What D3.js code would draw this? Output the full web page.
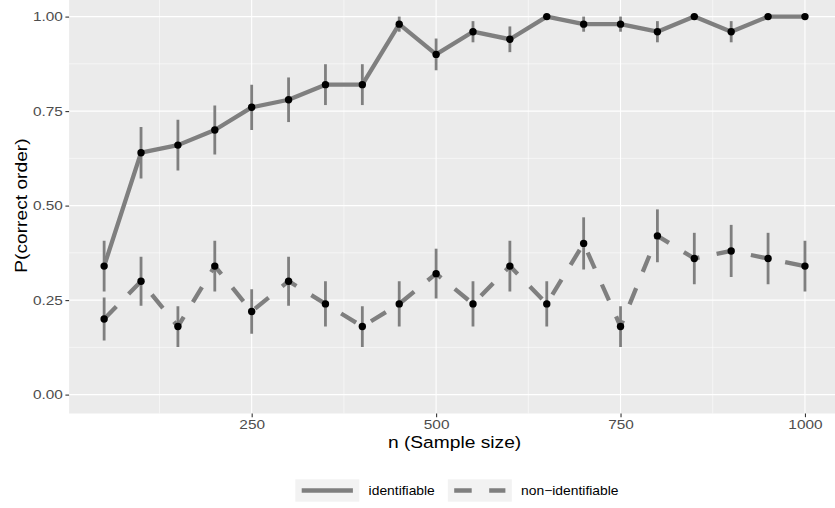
<!DOCTYPE html>
<html>
<head>
<meta charset="utf-8">
<script src="https://cdn.jsdelivr.net/npm/d3@7"></script>
<style>
  html, body { margin: 0; padding: 0; background: #ffffff; }
  svg { display: block; font-family: "Liberation Sans", Arial, Helvetica, sans-serif; }
</style>
</head>
<body>
<svg id="chart" width="835" height="508"></svg>
<script>
// Sample sizes on the x axis
const sampleSizes = [50, 100, 150, 200, 250, 300, 350, 400, 450, 500,
                     550, 600, 650, 700, 750, 800, 850, 900, 950, 1000];

// Proportion of runs recovering the correct order, with error bar bounds
const identMean  = [0.34, 0.64, 0.66, 0.70, 0.76, 0.78, 0.82, 0.82, 0.98, 0.90,
                    0.96, 0.94, 1.00, 0.98, 0.98, 0.96, 1.00, 0.96, 1.00, 1.00];
const identLower = [0.273, 0.572, 0.593, 0.635, 0.700, 0.721, 0.766, 0.766, 0.960, 0.858,
                    0.932, 0.906, 1.000, 0.960, 0.960, 0.932, 1.000, 0.932, 1.000, 1.000];
const identUpper = [0.407, 0.708, 0.727, 0.765, 0.820, 0.839, 0.874, 0.874, 1.000, 0.942,
                    0.988, 0.974, 1.000, 1.000, 1.000, 0.988, 1.000, 0.988, 1.000, 1.000];

const nonMean  = [0.20, 0.30, 0.18, 0.34, 0.22, 0.30, 0.24, 0.18, 0.24, 0.32,
                  0.24, 0.34, 0.24, 0.40, 0.18, 0.42, 0.36, 0.38, 0.36, 0.34];
const nonLower = [0.143, 0.235, 0.126, 0.273, 0.161, 0.235, 0.180, 0.126, 0.180, 0.254,
                  0.180, 0.273, 0.180, 0.331, 0.126, 0.350, 0.292, 0.311, 0.292, 0.273];
const nonUpper = [0.257, 0.365, 0.234, 0.407, 0.279, 0.365, 0.300, 0.234, 0.300, 0.386,
                  0.300, 0.407, 0.300, 0.469, 0.234, 0.490, 0.428, 0.449, 0.428, 0.407];

const seriesNames = ["identifiable", "non\u2212identifiable"];
const xTicks = [250, 500, 750, 1000];
const yTicks = [0, 0.25, 0.5, 0.75, 1];
const yTickLabels = ["0.00", "0.25", "0.50", "0.75", "1.00"];
const xMinor = [125, 375, 625, 875];
const yMinor = [0.125, 0.375, 0.625, 0.875];

const series = [
  { name: seriesNames[0], mean: identMean, lo: identLower, hi: identUpper, dash: null },
  { name: seriesNames[1], mean: nonMean,   lo: nonLower,   hi: nonUpper,   dash: "17.5 17.5" }
];

const svg = d3.select("#chart");
const lineColor = "#7f7f7f";
const textWiden = 1.22;   // glyphs are set a little wider than the base face

// Scales (domain padded 5% on each side, ggplot style)
const x = d3.scaleLinear().domain([2.5, 1047.5]).range([69.1, 840.0]);
const y = d3.scaleLinear().domain([-0.05, 1.05]).range([413.5, -2.3]);

const [px0, px1] = x.range();
const [py0, py1] = y.range();

// Panel background
svg.append("rect")
  .attr("x", px0).attr("y", py1)
  .attr("width", px1 - px0).attr("height", py0 - py1)
  .attr("fill", "#ebebeb");

// Grid lines
const grid = svg.append("g");
grid.selectAll(".xminor").data(xMinor).enter().append("line")
  .attr("x1", d => x(d)).attr("x2", d => x(d))
  .attr("y1", py0).attr("y2", py1)
  .attr("stroke", "#ffffff").attr("stroke-width", 0.55);
grid.selectAll(".yminor").data(yMinor).enter().append("line")
  .attr("y1", d => y(d)).attr("y2", d => y(d))
  .attr("x1", px0).attr("x2", px1)
  .attr("stroke", "#ffffff").attr("stroke-width", 0.55);
grid.selectAll(".xmajor").data(xTicks).enter().append("line")
  .attr("x1", d => x(d)).attr("x2", d => x(d))
  .attr("y1", py0).attr("y2", py1)
  .attr("stroke", "#ffffff").attr("stroke-width", 1.1);
grid.selectAll(".ymajor").data(yTicks).enter().append("line")
  .attr("y1", d => y(d)).attr("y2", d => y(d))
  .attr("x1", px0).attr("x2", px1)
  .attr("stroke", "#ffffff").attr("stroke-width", 1.1);

// Axes
const xAxis = d3.axisBottom(x).tickValues(xTicks).tickSize(3.7).tickPadding(3).tickFormat(d3.format("d"));
const yAxis = d3.axisLeft(y).tickValues(yTicks).tickSize(3.7).tickPadding(2.5)
  .tickFormat((d, i) => yTickLabels[i]);

const gx = svg.append("g").attr("transform", `translate(0,${py0})`).call(xAxis);
const gy = svg.append("g").attr("transform", `translate(${px0},0)`).call(yAxis);
[gx, gy].forEach(g => {
  g.select(".domain").remove();
  g.selectAll(".tick line").attr("stroke", "#333333").attr("stroke-width", 1.1);
  g.selectAll(".tick text")
    .attr("fill", "#4d4d4d")
    .style("font-size", "12.6px")
    .style("font-family", "'Liberation Sans', Arial, sans-serif")
    .each(function () {
      const t = d3.select(this);
      const tx = +t.attr("x") || 0;
      t.attr("x", 0).attr("transform", `translate(${tx},0) scale(${textWiden},1)`);
    });
});

// Axis titles
svg.append("text")
  .attr("transform", `translate(${(px0 + px1) / 2},448) scale(${textWiden},1)`)
  .attr("text-anchor", "middle")
  .style("font-size", "15.75px").attr("fill", "#000000")
  .text("n (Sample size)");

svg.append("text")
  .attr("transform", `translate(26.7,${(py0 + py1) / 2}) rotate(-90) scale(${textWiden},1)`)
  .attr("text-anchor", "middle")
  .style("font-size", "15.75px").attr("fill", "#000000")
  .text("P(correct order)");

// Clip marks to the panel
svg.append("clipPath").attr("id", "panel-clip")
  .append("rect").attr("x", px0).attr("y", py1)
  .attr("width", px1 - px0).attr("height", py0 - py1);

const marks = svg.append("g").attr("clip-path", "url(#panel-clip)");

const line = d3.line()
  .x((d, i) => x(sampleSizes[i]))
  .y(d => y(d));

// Lines
series.forEach(s => {
  marks.append("path")
    .datum(s.mean)
    .attr("d", line)
    .attr("fill", "none")
    .attr("stroke", lineColor)
    .attr("stroke-width", 4.3)
    .attr("stroke-linejoin", "round")
    .attr("stroke-dasharray", s.dash);
});

// Error bars
series.forEach(s => {
  marks.append("g").selectAll("line")
    .data(sampleSizes)
    .enter().append("line")
    .attr("x1", d => x(d)).attr("x2", d => x(d))
    .attr("y1", (d, i) => y(s.lo[i]))
    .attr("y2", (d, i) => y(s.hi[i]))
    .attr("stroke", lineColor)
    .attr("stroke-width", 2.8);
});

// Points
series.forEach(s => {
  marks.append("g").selectAll("circle")
    .data(s.mean)
    .enter().append("circle")
    .attr("cx", (d, i) => x(sampleSizes[i]))
    .attr("cy", d => y(d))
    .attr("r", 3.7)
    .attr("fill", "#000000");
});

// Legend
const legendItems = [
  { label: seriesNames[0], dash: null, x: 295.3 },
  { label: seriesNames[1], dash: "17.5 17.5", x: 447.8 }
];
const keyW = 64, keyH = 22.4, keyY = 479.3;
const lg = svg.append("g");
legendItems.forEach(item => {
  lg.append("rect")
    .attr("x", item.x).attr("y", keyY)
    .attr("width", keyW).attr("height", keyH)
    .attr("fill", "#f2f2f2");
  lg.append("line")
    .attr("x1", item.x + keyW * 0.1).attr("x2", item.x + keyW * 0.9)
    .attr("y1", keyY + keyH / 2).attr("y2", keyY + keyH / 2)
    .attr("stroke", lineColor).attr("stroke-width", 4.3)
    .attr("stroke-dasharray", item.dash);
  lg.append("text")
    .attr("transform", `translate(${item.x + keyW + 9.3},${keyY + keyH / 2}) scale(1.1,1)`)
    .attr("dy", "0.35em")
    .style("font-size", "12.6px").attr("fill", "#000000")
    .text(item.label);
});
</script>
</body>
</html>
